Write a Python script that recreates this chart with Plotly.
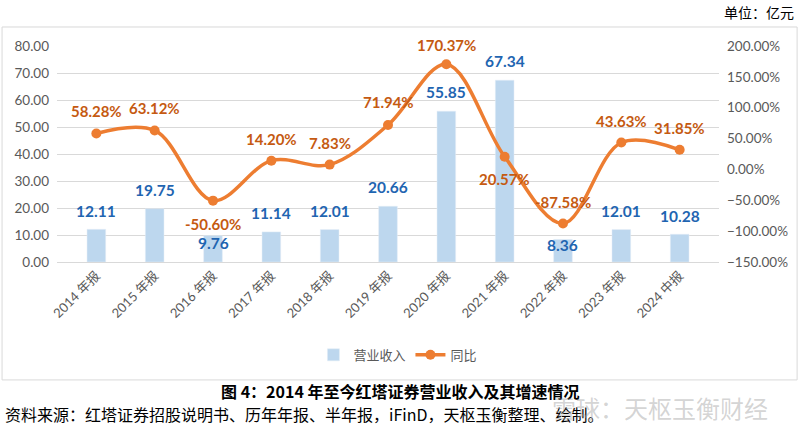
import plotly.graph_objects as go

categories = ["2014 年报", "2015 年报", "2016 年报", "2017 年报", "2018 年报", "2019 年报",
              "2020 年报", "2021 年报", "2022 年报", "2023 年报", "2024 中报"]
revenue = [12.11, 19.75, 9.76, 11.14, 12.01, 20.66, 55.85, 67.34, 8.36, 12.01, 10.28]
growth = [58.28, 63.12, -50.60, 14.20, 7.83, 71.94, 170.37, 20.57, -87.58, 43.63, 31.85]

# label offsets (pixels) for data labels
rev_shift = [18, 19, -7, 19, 19, 19, 19, 19, -6, 19, 18]
gr_shift = [22, 22, -23, 22, 22, 23, 19, -22, 21, 22, 22]

BAR_C = "#BDD7EE"
LINE_C = "#ED7D31"
BAR_LBL = "#1F65B1"
LINE_LBL = "#C55A11"
GRAY = "#595959"
NUM_FONT = "Lato, 'Noto Sans CJK SC'"
CJK = "'Noto Sans CJK SC', 'Liberation Sans'"

fig = go.Figure()
fig.add_trace(go.Bar(x=categories, y=revenue, name="营业收入", marker_color=BAR_C,
                     width=0.32, yaxis="y"))
fig.add_trace(go.Scatter(x=categories, y=growth, name="同比", yaxis="y2",
                         mode="lines+markers", line=dict(color=LINE_C, width=3.5, shape="spline", smoothing=1.0),
                         marker=dict(size=10, color=LINE_C)))

ann = []
for c, v, s in zip(categories, revenue, rev_shift):
    ann.append(dict(x=c, y=v, xref="x", yref="y", text=f"{v:.2f}", showarrow=False, yshift=s,
                    font=dict(family=NUM_FONT, size=15.5, color=BAR_LBL, weight="bold")))
for c, v, s in zip(categories, growth, gr_shift):
    ann.append(dict(x=c, y=v, xref="x", yref="y2", text=f"{v:.2f}%", showarrow=False, yshift=s,
                    font=dict(family=NUM_FONT, size=15, color=LINE_LBL, weight="bold")))

# page texts
ann.append(dict(x=1.116, y=1.157, xref="paper", yref="paper", text="单位：亿元", showarrow=False,
                xanchor="right", yanchor="middle", font=dict(family=CJK, size=14, color="#000000")))
ann.append(dict(x=0.518, y=-0.597, xref="paper", yref="paper",
                text="<b>图 4：2014 年至今红塔证券营业收入及其增速情况</b>", showarrow=False,
                xanchor="center", yanchor="middle", font=dict(family=CJK, size=16, color="#000000")))
ann.append(dict(x=-0.0816, y=-0.706, xref="paper", yref="paper",
                text="资料来源：红塔证券招股说明书、历年年报、半年报，iFinD，天枢玉衡整理、绘制。", showarrow=False,
                xanchor="left", yanchor="middle", font=dict(family=CJK, size=16, color="#000000")))
ann.append(dict(x=0.911, y=-0.672, xref="paper", yref="paper",
                text="雪球：天枢玉衡财经", showarrow=False,
                xanchor="center", yanchor="middle", font=dict(family=CJK, size=24, color="rgba(160,160,160,0.45)")))

fig.update_layout(
    width=800, height=434,
    margin=dict(l=57, r=81, t=46, b=172),
    paper_bgcolor="white", plot_bgcolor="white",
    showlegend=True,
    legend=dict(orientation="h", x=0.515, xanchor="center", y=-0.43, yanchor="middle",
                font=dict(family=CJK, size=13, color=GRAY), itemwidth=30, traceorder="normal"),
    xaxis=dict(type="category", tickangle=-45, showgrid=False, showline=True, linecolor="#D9D9D9",
               ticks="", tickfont=dict(family=NUM_FONT, size=13, color=GRAY)),
    yaxis=dict(range=[0, 80], dtick=10, tickformat=".2f", showgrid=True, gridcolor="#D9D9D9",
               zeroline=False, showline=False, ticks="", ticklabelstandoff=7,
               tickfont=dict(family=NUM_FONT, size=13.5, color=GRAY)),
    yaxis2=dict(range=[-150, 200], dtick=50, tickformat=".2f", ticksuffix="%", overlaying="y", side="right",
                showgrid=False, zeroline=False, showline=False, ticks="", ticklabelstandoff=7,
                tickfont=dict(family=NUM_FONT, size=13.5, color=GRAY)),
    annotations=ann,
    shapes=[dict(type="rect", xref="paper", yref="paper", x0=-0.083, x1=1.118, y0=-0.546, y1=1.088,
                 line=dict(color="#D9D9D9", width=1), fillcolor="rgba(0,0,0,0)", layer="below")],
)

fig.write_html("out.html", config={"displayModeBar": False},
               post_script="document.body.style.margin='0';")
